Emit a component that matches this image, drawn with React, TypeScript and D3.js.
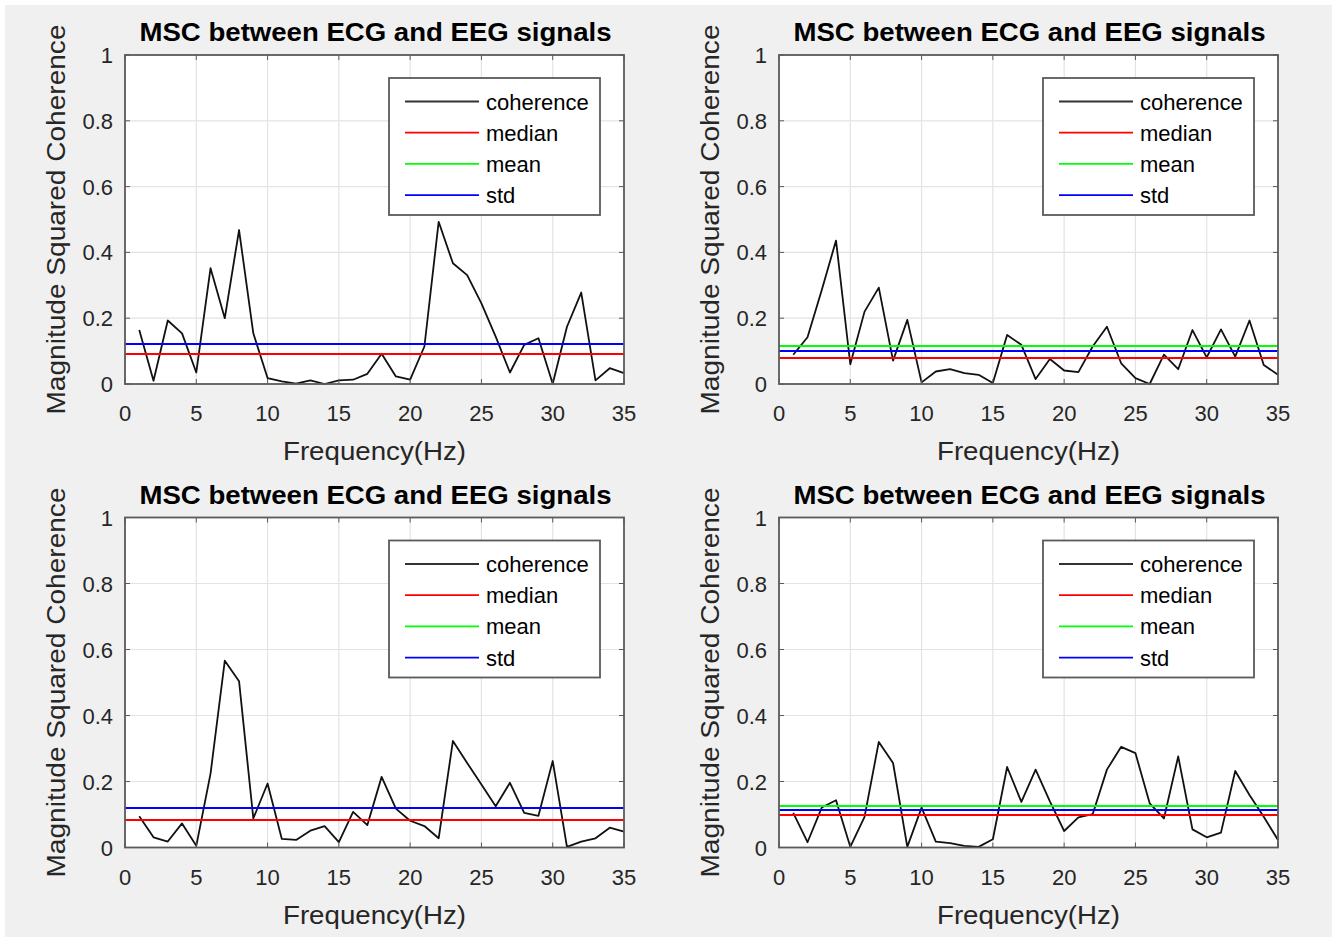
import React, { useRef, useEffect } from 'react';
import * as d3 from 'd3';

// frequency bins 1..35 Hz
const freqs = d3.range(1, 36);

const cohTL = [
  0.164, 0.01, 0.193, 0.154, 0.035, 0.352, 0.2, 0.468, 0.154, 0.018, 0.008, 0.001, 0.011, 0.0,
  0.011, 0.013, 0.031, 0.092, 0.023, 0.013, 0.114, 0.493, 0.367, 0.331, 0.245, 0.144, 0.035,
  0.119, 0.139, 0.001, 0.174, 0.278, 0.011, 0.048, 0.033,
];
const cohTR = [
  0.089, 0.142, 0.286, 0.436, 0.06, 0.22, 0.293, 0.071, 0.195, 0.005, 0.038, 0.045, 0.033, 0.028,
  0.003, 0.149, 0.119, 0.015, 0.076, 0.041, 0.036, 0.114, 0.174, 0.063, 0.018, 0.0, 0.089, 0.045,
  0.164, 0.081, 0.166, 0.083, 0.193, 0.058, 0.028,
];
const cohBL = [
  0.095, 0.031, 0.018, 0.073, 0.005, 0.224, 0.566, 0.504, 0.088, 0.194, 0.026, 0.023, 0.051,
  0.065, 0.016, 0.108, 0.068, 0.214, 0.118, 0.081, 0.065, 0.028, 0.323, 0.256, 0.191, 0.125,
  0.196, 0.105, 0.096, 0.262, 0.002, 0.018, 0.028, 0.06, 0.048,
];
const cohBR = [
  0.105, 0.016, 0.121, 0.143, 0.002, 0.093, 0.32, 0.256, 0.002, 0.121, 0.018, 0.013, 0.005, 0.002,
  0.025, 0.244, 0.138, 0.236, 0.14, 0.05, 0.091, 0.101, 0.236, 0.305, 0.286, 0.134, 0.088, 0.276,
  0.055, 0.031, 0.045, 0.232, 0.159, 0.093, 0.023,
];

// [median, mean, std] per panel
const statsTL = [0.092, 0.123, 0.123];
const statsTR = [0.08, 0.116, 0.101];
const statsBL = [0.086, 0.121, 0.121];
const statsBR = [0.099, 0.126, 0.116];

const xTicks = [0, 5, 10, 15, 20, 25, 30, 35];
const yTicks = [0, 0.2, 0.4, 0.6, 0.8, 1];
const legendLabels = ['coherence', 'median', 'mean', 'std'];
const legendColors = ['#000000', '#ff0000', '#00ff00', '#0000ff'];

const titleText = 'MSC between ECG and EEG signals';
const xLabel = 'Frequency(Hz)';
const yLabel = 'Magnitude Squared Coherence';

const FONT = '"Liberation Sans", Arial, Helvetica, sans-serif';
const AXIS_COLOR = '#5a5a5a';

const App = () => {
  const svgRef = useRef<SVGSVGElement>(null);

  useEffect(() => {
    const W = 1332;
    const H = 937;
    const root = d3.select(svgRef.current).attr('width', W).attr('height', H);
    root.selectAll('*').remove();

    root.append('rect').attr('width', W).attr('height', H).attr('fill', '#ffffff');
    root
      .append('rect')
      .attr('x', 5)
      .attr('y', 5)
      .attr('width', W - 5)
      .attr('height', H - 5)
      .attr('fill', '#f0f0f0');

    const panels = [
      { left: 125, top: 55, height: 329, coh: cohTL, stats: statsTL },
      { left: 779, top: 55, height: 329, coh: cohTR, stats: statsTR },
      { left: 125, top: 517.5, height: 330, coh: cohBL, stats: statsBL },
      { left: 779, top: 517.5, height: 330, coh: cohBR, stats: statsBR },
    ];
    const pw = 499;

    panels.forEach((p) => {
      const g = root.append('g').attr('transform', `translate(${p.left},${p.top})`);
      const x = d3.scaleLinear().domain([0, 35]).range([0, pw]);
      const y = d3.scaleLinear().domain([0, 1]).range([p.height, 0]);

      g.append('rect').attr('width', pw).attr('height', p.height).attr('fill', '#ffffff');

      // grid
      g.selectAll('.gx')
        .data(xTicks.slice(1, -1))
        .join('line')
        .attr('x1', (d) => x(d))
        .attr('x2', (d) => x(d))
        .attr('y1', 0)
        .attr('y2', p.height)
        .attr('stroke', '#e3e3e3')
        .attr('stroke-width', 1.2);
      g.selectAll('.gy')
        .data(yTicks.slice(1, -1))
        .join('line')
        .attr('x1', 0)
        .attr('x2', pw)
        .attr('y1', (d) => y(d))
        .attr('y2', (d) => y(d))
        .attr('stroke', '#e3e3e3')
        .attr('stroke-width', 1.2);

      // coherence + stat lines
      const line = d3
        .line<number>()
        .x((d, i) => x(freqs[i]))
        .y((d) => y(d));
      g.append('path')
        .datum(p.coh)
        .attr('fill', 'none')
        .attr('stroke', '#111111')
        .attr('stroke-width', 1.8)
        .attr('stroke-linejoin', 'round')
        .attr('d', line);

      p.stats.forEach((v, i) => {
        g.append('line')
          .attr('x1', x(0))
          .attr('x2', x(35))
          .attr('y1', Math.round(y(v)))
          .attr('y2', Math.round(y(v)))
          .attr('stroke', legendColors[i + 1])
          .attr('stroke-width', 2)
          .attr('shape-rendering', 'crispEdges');
      });

      // box + inward ticks
      const tl = 5;
      xTicks.forEach((t) => {
        g.append('line')
          .attr('x1', x(t)).attr('x2', x(t))
          .attr('y1', p.height).attr('y2', p.height - tl)
          .attr('stroke', AXIS_COLOR);
        g.append('line')
          .attr('x1', x(t)).attr('x2', x(t))
          .attr('y1', 0).attr('y2', tl)
          .attr('stroke', AXIS_COLOR);
      });
      yTicks.forEach((t) => {
        g.append('line')
          .attr('x1', 0).attr('x2', tl)
          .attr('y1', y(t)).attr('y2', y(t))
          .attr('stroke', AXIS_COLOR);
        g.append('line')
          .attr('x1', pw).attr('x2', pw - tl)
          .attr('y1', y(t)).attr('y2', y(t))
          .attr('stroke', AXIS_COLOR);
      });
      g.append('rect')
        .attr('width', pw)
        .attr('height', p.height)
        .attr('fill', 'none')
        .attr('stroke', AXIS_COLOR)
        .attr('stroke-width', 1.8);

      // tick labels
      g.selectAll('.xl')
        .data(xTicks)
        .join('text')
        .attr('x', (d) => x(d))
        .attr('y', p.height + 37)
        .attr('text-anchor', 'middle')
        .attr('font-family', FONT)
        .attr('font-size', 22)
        .attr('fill', '#262626')
        .text((d) => d);
      g.selectAll('.yl')
        .data(yTicks)
        .join('text')
        .attr('x', -12)
        .attr('y', (d) => y(d) + 8)
        .attr('text-anchor', 'end')
        .attr('font-family', FONT)
        .attr('font-size', 22)
        .attr('fill', '#262626')
        .text((d) => d);

      // axis labels + title
      g.append('text')
        .attr('x', pw / 2)
        .attr('y', p.height + 76)
        .attr('text-anchor', 'middle')
        .attr('font-family', FONT)
        .attr('font-size', 25)
        .attr('fill', '#262626')
        .attr('textLength', 183)
        .attr('lengthAdjust', 'spacingAndGlyphs')
        .text(xLabel);
      g.append('text')
        .attr('transform', `translate(-60,${p.height / 2}) rotate(-90)`)
        .attr('text-anchor', 'middle')
        .attr('font-family', FONT)
        .attr('font-size', 25)
        .attr('fill', '#262626')
        .attr('textLength', 390)
        .attr('lengthAdjust', 'spacingAndGlyphs')
        .text(yLabel);
      g.append('text')
        .attr('x', pw / 2 + 1)
        .attr('y', -14)
        .attr('text-anchor', 'middle')
        .attr('font-family', FONT)
        .attr('font-size', 25)
        .attr('font-weight', 'bold')
        .attr('fill', '#000000')
        .attr('textLength', 472)
        .attr('lengthAdjust', 'spacingAndGlyphs')
        .text(titleText);

      // legend
      const lg = g.append('g').attr('transform', `translate(${264},${23})`);
      lg.append('rect')
        .attr('width', 211)
        .attr('height', 137)
        .attr('fill', '#ffffff')
        .attr('stroke', AXIS_COLOR)
        .attr('stroke-width', 1.8);
      legendLabels.forEach((lab, i) => {
        const ry = 23.5 + i * 31.2;
        lg.append('line')
          .attr('x1', 16)
          .attr('x2', 90)
          .attr('y1', ry)
          .attr('y2', ry)
          .attr('stroke', i === 0 ? '#333333' : legendColors[i])
          .attr('stroke-width', 1.8);
        lg.append('text')
          .attr('x', 97)
          .attr('y', ry + 8)
          .attr('font-family', FONT)
          .attr('font-size', 22)
          .attr('fill', '#000000')
          .text(lab);
      });
    });
  }, []);

  return <svg ref={svgRef} style={{ position: 'absolute', left: 0, top: 0, display: 'block' }} />;
};

export default App;
